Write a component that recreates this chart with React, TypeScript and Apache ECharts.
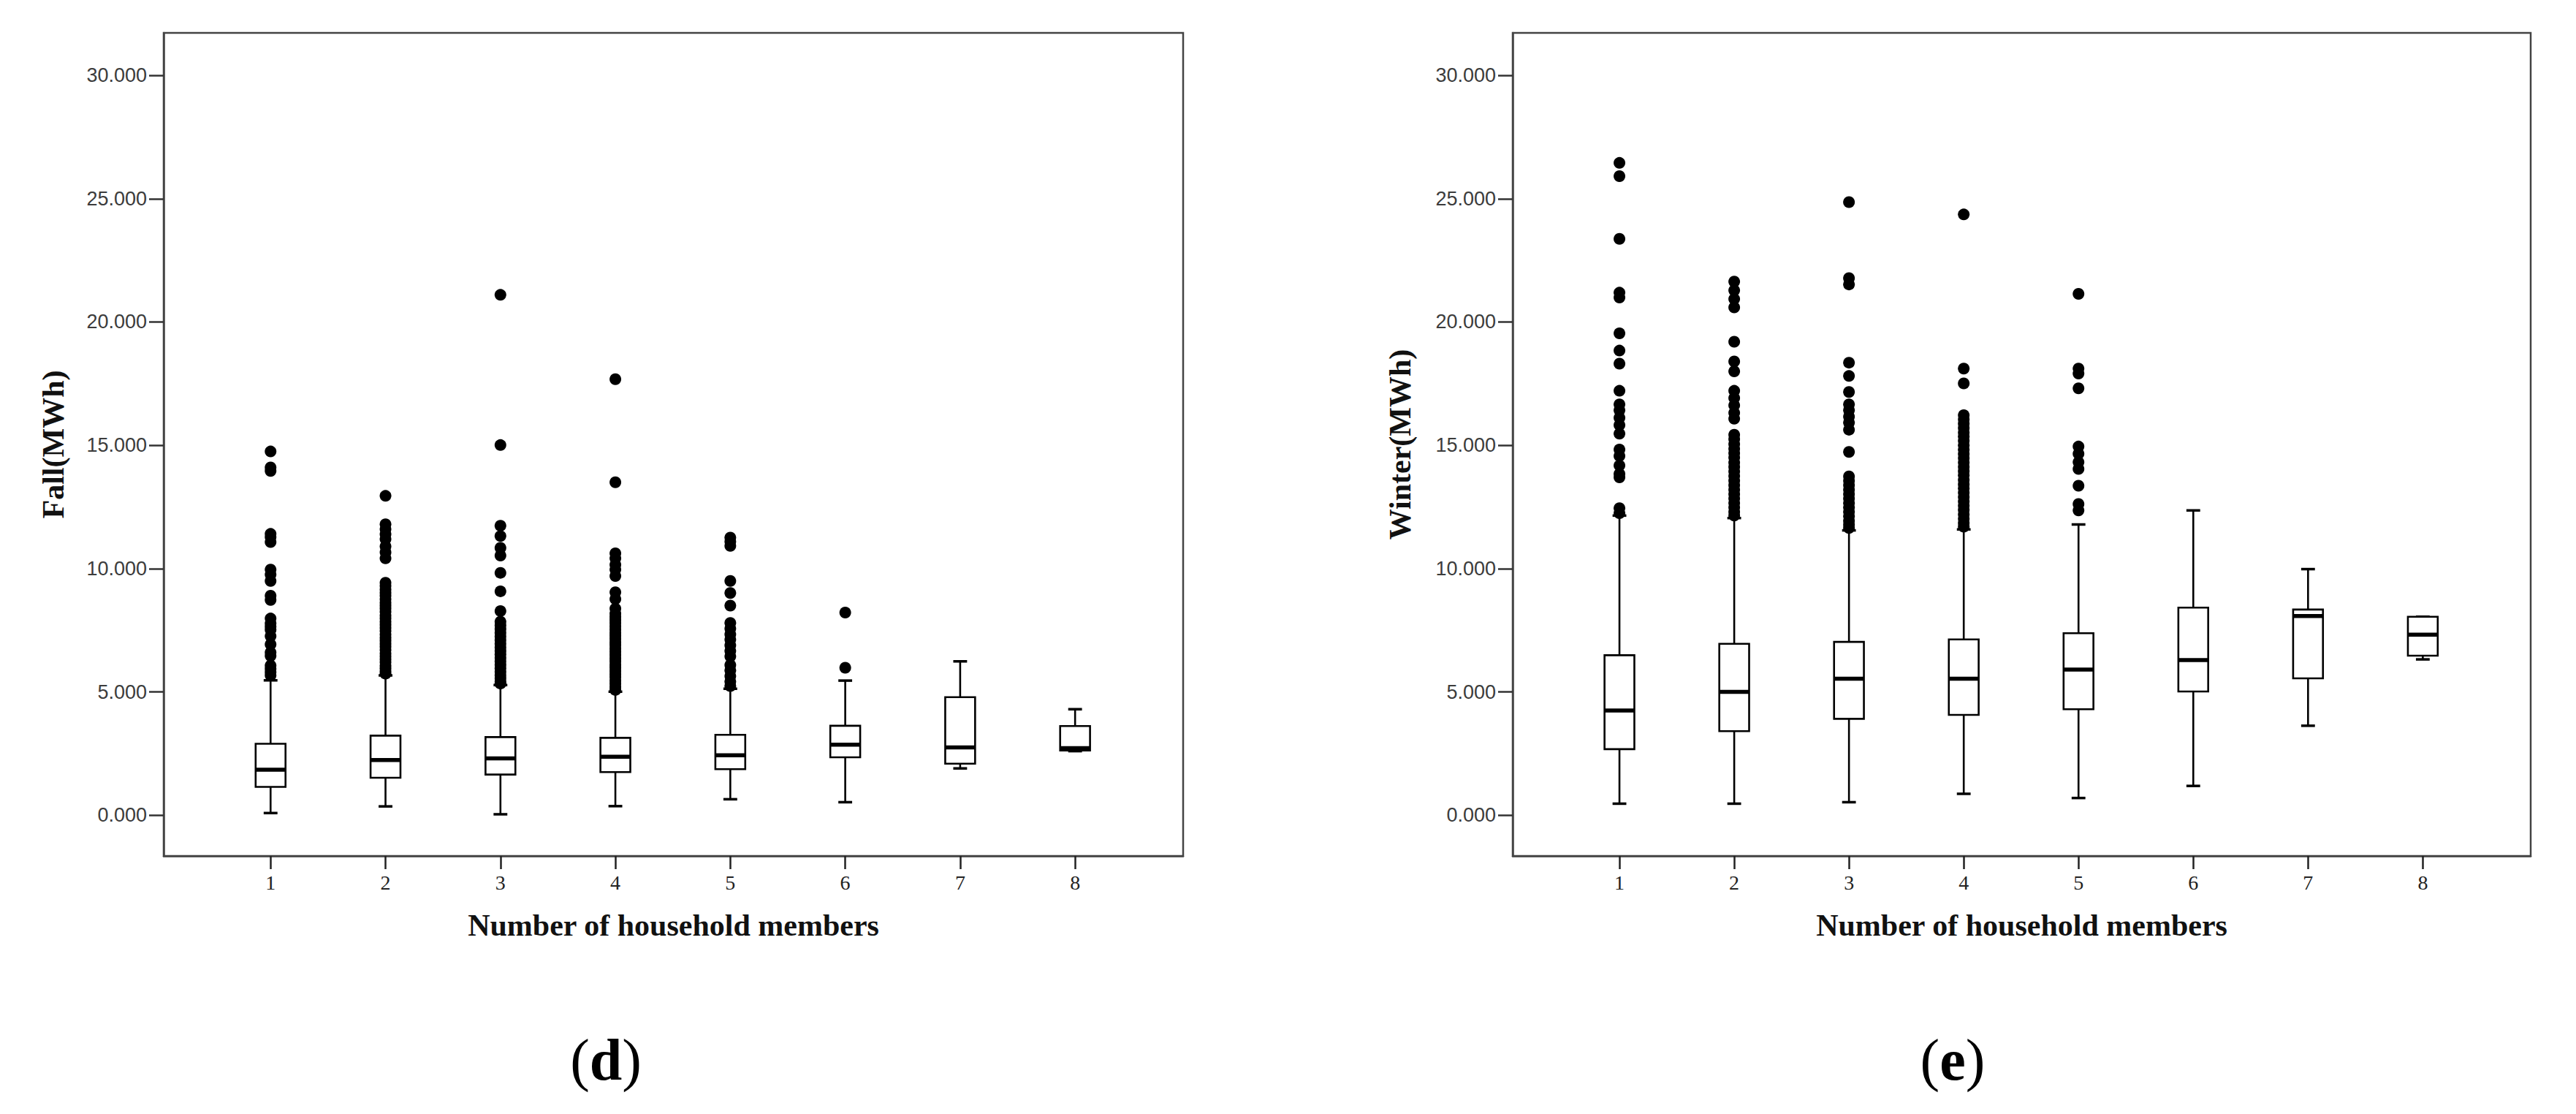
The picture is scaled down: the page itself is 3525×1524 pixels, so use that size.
import React, { useEffect, useRef } from "react";
import * as echarts from "echarts";

const members = [1, 2, 3, 4, 5, 6, 7, 8];
const yTicks = [0, 5, 10, 15, 20, 25, 30];

// Fall (MWh) box statistics per household size
const fallLow = [0.09, 0.36, 0.04, 0.37, 0.65, 0.53, 1.9, 2.6];
const fallQ1 = [1.15, 1.52, 1.65, 1.75, 1.87, 2.35, 2.09, 2.63];
const fallMed = [1.85, 2.24, 2.31, 2.37, 2.43, 2.86, 2.75, 2.72];
const fallQ3 = [2.9, 3.23, 3.17, 3.14, 3.26, 3.63, 4.79, 3.62];
const fallHigh = [5.47, 5.67, 5.28, 5.01, 5.13, 5.46, 6.24, 4.3];

const fallOut1 = [14.75, 14.1, 13.96, 11.41, 11.28, 11.08, 9.96, 9.76, 9.5, 8.9, 8.73, 7.98, 7.78, 7.65, 7.52, 7.26, 6.93, 6.6, 6.46, 6.07, 5.94, 5.8, 5.67];
const fallOut2 = [12.95, 11.8, 11.6, 11.4, 11.2, 10.9, 10.66, 10.42, 9.43, 9.3, 9.15, 9.02, 8.9, 8.76, 8.62, 8.5, 8.38, 8.25, 8.1, 7.98, 7.85, 7.72, 7.6, 7.47, 7.33, 7.2, 7.08, 6.95, 6.83, 6.7, 6.56, 6.44, 6.32, 6.2, 6.06, 5.95, 5.83, 5.74];
const fallOut3 = [21.1, 15.01, 11.74, 11.32, 10.84, 10.53, 9.83, 9.08, 8.28, 7.85, 7.7, 7.55, 7.4, 7.25, 7.1, 6.95, 6.8, 6.66, 6.52, 6.38, 6.24, 6.1, 5.96, 5.82, 5.68, 5.55, 5.42, 5.34];
const fallOut4 = [17.68, 13.5, 10.62, 10.42, 10.16, 9.96, 9.7, 9.04, 8.77, 8.38, 8.18, 8.05, 7.92, 7.8, 7.66, 7.53, 7.4, 7.28, 7.15, 7.02, 6.9, 6.76, 6.63, 6.5, 6.37, 6.24, 6.1, 5.98, 5.85, 5.72, 5.6, 5.46, 5.34, 5.2, 5.08];
const fallOut5 = [11.26, 11.09, 10.92, 9.5, 9.01, 8.5, 7.8, 7.57, 7.34, 7.12, 6.89, 6.66, 6.44, 6.09, 5.87, 5.64, 5.42, 5.24];
const fallOut6 = [8.22, 5.98];
const fallOut7: number[] = [];
const fallOut8: number[] = [];

// Winter (MWh) box statistics per household size
const winLow = [0.47, 0.47, 0.53, 0.87, 0.7, 1.19, 3.63, 6.32];
const winQ1 = [2.68, 3.41, 3.91, 4.07, 4.3, 5.02, 5.55, 6.47];
const winMed = [4.25, 5.0, 5.54, 5.54, 5.91, 6.29, 8.08, 7.32];
const winQ3 = [6.49, 6.95, 7.03, 7.13, 7.38, 8.42, 8.34, 8.05];
const winHigh = [12.15, 12.05, 11.55, 11.59, 11.79, 12.36, 9.98, 8.05];

const winOut1 = [26.45, 25.91, 23.37, 21.19, 20.99, 19.54, 18.84, 18.31, 17.21, 16.66, 16.42, 16.12, 15.82, 15.47, 14.83, 14.57, 14.18, 13.84, 13.7, 12.45, 12.25];
const winOut2 = [21.64, 21.28, 20.93, 20.59, 19.2, 18.4, 18.0, 17.21, 16.92, 16.62, 16.32, 16.08, 15.43, 15.25, 15.05, 14.86, 14.68, 14.5, 14.3, 14.12, 13.94, 13.75, 13.57, 13.38, 13.2, 13.02, 12.84, 12.66, 12.48, 12.3, 12.15];
const winOut3 = [24.86, 21.78, 21.52, 18.35, 17.81, 17.16, 16.66, 16.42, 16.16, 15.92, 15.63, 14.73, 13.74, 13.56, 13.38, 13.2, 13.02, 12.84, 12.66, 12.48, 12.3, 12.12, 11.94, 11.78, 11.65];
const winOut4 = [24.36, 18.11, 17.51, 16.22, 16.05, 15.88, 15.7, 15.52, 15.35, 15.18, 15.0, 14.82, 14.65, 14.48, 14.3, 14.12, 13.95, 13.78, 13.6, 13.42, 13.25, 13.08, 12.9, 12.72, 12.55, 12.38, 12.2, 12.02, 11.85, 11.7];
const winOut5 = [21.14, 18.11, 17.91, 17.31, 14.95, 14.66, 14.32, 14.04, 13.36, 12.62, 12.36];
const winOut6: number[] = [];
const winOut7: number[] = [];
const winOut8: number[] = [];

const fallOutliers = [fallOut1, fallOut2, fallOut3, fallOut4, fallOut5, fallOut6, fallOut7, fallOut8];
const winOutliers = [winOut1, winOut2, winOut3, winOut4, winOut5, winOut6, winOut7, winOut8];

function boxData(lo: number[], q1: number[], med: number[], q3: number[], hi: number[]) {
  return members.map((m, i) => [m, lo[i], q1[i], med[i], q3[i], hi[i]]);
}
function outlierData(lists: number[][]) {
  const out: number[][] = [];
  lists.forEach((vals, i) => vals.forEach((v) => out.push([members[i], v])));
  return out;
}

function renderBox(params: any, api: any) {
  const x = api.value(0);
  const lo = api.coord([x, api.value(1)]);
  const q1 = api.coord([x, api.value(2)]);
  const med = api.coord([x, api.value(3)]);
  const q3 = api.coord([x, api.value(4)]);
  const hi = api.coord([x, api.value(5)]);
  const band = api.size([1, 0])[0];
  const bw = band * 0.26;
  const cw = band * 0.12;
  const cx = lo[0];
  const ls = { stroke: "#000", lineWidth: 2.6, fill: null };
  return {
    type: "group",
    children: [
      { type: "line", shape: { x1: cx, y1: hi[1], x2: cx, y2: q3[1] }, style: ls },
      { type: "line", shape: { x1: cx, y1: q1[1], x2: cx, y2: lo[1] }, style: ls },
      { type: "line", shape: { x1: cx - cw / 2, y1: hi[1], x2: cx + cw / 2, y2: hi[1] }, style: { stroke: "#000", lineWidth: 3.5 } },
      { type: "line", shape: { x1: cx - cw / 2, y1: lo[1], x2: cx + cw / 2, y2: lo[1] }, style: { stroke: "#000", lineWidth: 3.5 } },
      { type: "rect", shape: { x: cx - bw / 2, y: q3[1], width: bw, height: q1[1] - q3[1] }, style: { fill: "#fff", stroke: "#000", lineWidth: 2.6 } },
      { type: "line", shape: { x1: cx - bw / 2, y1: med[1], x2: cx + bw / 2, y2: med[1] }, style: { stroke: "#000", lineWidth: 5.5 } },
    ],
  };
}

const axisNameStyle = { fontFamily: "Liberation Serif", fontWeight: "bold", fontSize: 42, color: "#111" };

function xAxisCfg(gridIndex: number) {
  return {
    type: "value",
    gridIndex,
    min: 0.07,
    max: 8.94,
    splitLine: { show: false },
    axisLine: { show: true, onZero: false, lineStyle: { color: "#444", width: 2.5 } },
    axisTick: { show: true, customValues: members, length: 18, lineStyle: { color: "#222", width: 2.5 } },
    axisLabel: { customValues: members, margin: 22, fontFamily: "Liberation Serif", fontSize: 28, color: "#222" },
    name: "Number of household members",
    nameLocation: "middle",
    nameGap: 74,
    nameTextStyle: axisNameStyle,
  };
}
function yAxisCfg(gridIndex: number, name: string, gap: number) {
  return {
    type: "value",
    gridIndex,
    min: -1.65,
    max: 31.72,
    splitLine: { show: false },
    axisLine: { show: true, onZero: false, lineStyle: { color: "#444", width: 2.5 } },
    axisTick: { show: true, customValues: yTicks, length: 20, lineStyle: { color: "#333", width: 2.5 } },
    axisLabel: {
      customValues: yTicks,
      margin: 23,
      fontFamily: "Liberation Sans",
      fontSize: 27,
      color: "#3c3c3c",
      formatter: (v: number) => v.toFixed(3),
    },
    name,
    nameLocation: "middle",
    nameRotate: 90,
    nameGap: gap,
    nameTextStyle: axisNameStyle,
  };
}

export default function App() {
  const ref = useRef<HTMLDivElement>(null);
  useEffect(() => {
    if (!ref.current) return;
    const chart = echarts.init(ref.current, null, { renderer: "svg" });
    const gridBase = { show: true, borderColor: "#444", borderWidth: 2.5, backgroundColor: "transparent" };
    const outlierStyle = { color: "#000", opacity: 1 };
    chart.setOption({
      animation: false,
      backgroundColor: "#fff",
      grid: [
        { ...gridBase, left: 224, top: 45, width: 1395, height: 1126 },
        { ...gridBase, left: 2070, top: 45, width: 1393, height: 1126 },
      ],
      xAxis: [xAxisCfg(0), xAxisCfg(1)],
      yAxis: [yAxisCfg(0, "Fall(MWh)", 130), yAxisCfg(1, "Winter(MWh)", 133)],
      series: [
        {
          type: "custom",
          name: "Fall",
          xAxisIndex: 0,
          yAxisIndex: 0,
          renderItem: renderBox,
          encode: { x: 0, y: [1, 2, 3, 4, 5] },
          data: boxData(fallLow, fallQ1, fallMed, fallQ3, fallHigh),
          z: 2,
        },
        {
          type: "scatter",
          name: "Fall outliers",
          xAxisIndex: 0,
          yAxisIndex: 0,
          symbol: "circle",
          symbolSize: 16,
          itemStyle: outlierStyle,
          data: outlierData(fallOutliers),
          z: 3,
        },
        {
          type: "custom",
          name: "Winter",
          xAxisIndex: 1,
          yAxisIndex: 1,
          renderItem: renderBox,
          encode: { x: 0, y: [1, 2, 3, 4, 5] },
          data: boxData(winLow, winQ1, winMed, winQ3, winHigh),
          z: 2,
        },
        {
          type: "scatter",
          name: "Winter outliers",
          xAxisIndex: 1,
          yAxisIndex: 1,
          symbol: "circle",
          symbolSize: 16,
          itemStyle: outlierStyle,
          data: outlierData(winOutliers),
          z: 3,
        },
      ],
      graphic: [
        {
          type: "text",
          x: 829,
          y: 1450,
          style: {
            text: "{n|(}{b|d}{n|)}",
            align: "center",
            verticalAlign: "middle",
            rich: {
              n: { fontFamily: "Liberation Serif", fontSize: 80, fill: "#000" },
              b: { fontFamily: "Liberation Serif", fontSize: 80, fontWeight: "bold", fill: "#000" },
            },
          },
        },
        {
          type: "text",
          x: 2672,
          y: 1450,
          style: {
            text: "{n|(}{b|e}{n|)}",
            align: "center",
            verticalAlign: "middle",
            rich: {
              n: { fontFamily: "Liberation Serif", fontSize: 80, fill: "#000" },
              b: { fontFamily: "Liberation Serif", fontSize: 80, fontWeight: "bold", fill: "#000" },
            },
          },
        },
      ],
    });
    return () => chart.dispose();
  }, []);
  return (
    <div
      ref={ref}
      style={{ position: "absolute", left: 0, top: 0, width: 3525, height: 1524, background: "#fff" }}
    />
  );
}
